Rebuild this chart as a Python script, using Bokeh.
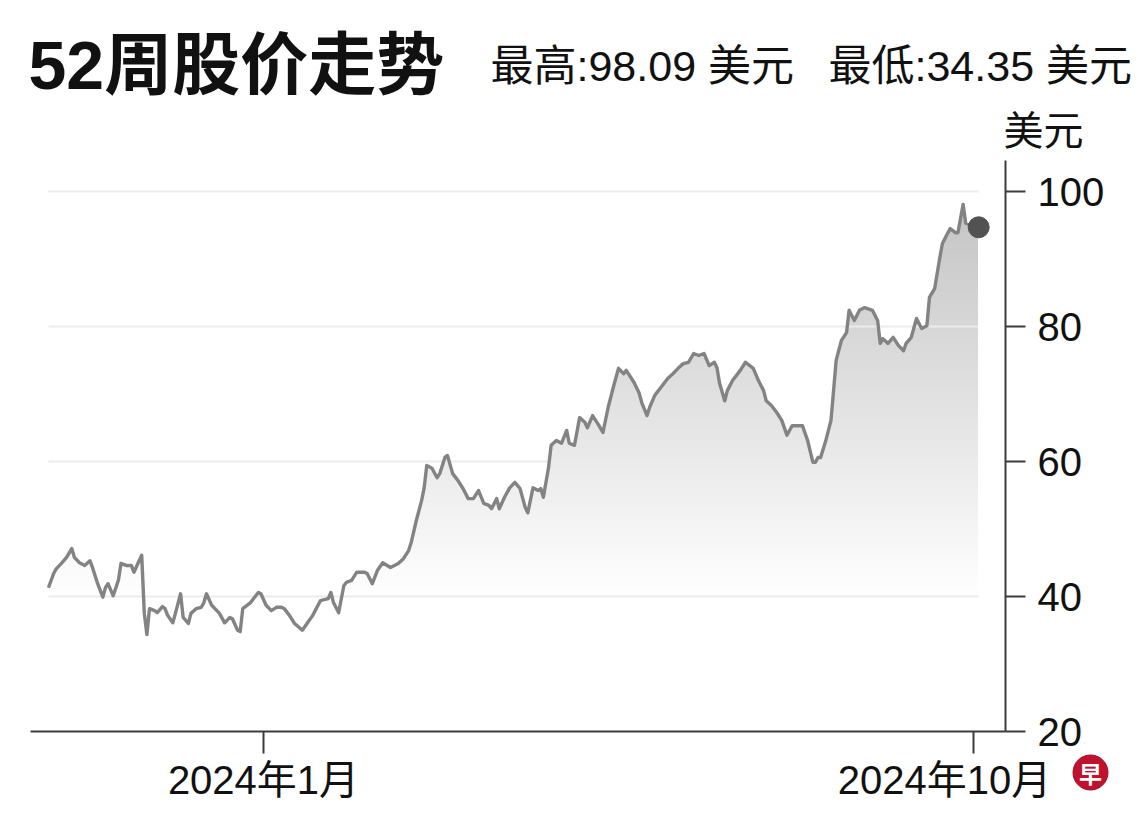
import numpy as np
import pandas as pd
from bokeh.plotting import figure
from bokeh.models import FixedTicker, Label, Range1d, LinearAxis, DatetimeAxis
from bokeh.embed import file_html
from bokeh.resources import INLINE

# ---------------- data ----------------
dates = [
    "2023-10-10", "2023-10-12", "2023-10-13", "2023-10-15", "2023-10-17", "2023-10-19", "2023-10-20",
    "2023-10-22", "2023-10-24", "2023-10-26", "2023-10-27", "2023-10-29", "2023-10-31", "2023-11-01",
    "2023-11-02", "2023-11-04", "2023-11-06", "2023-11-07", "2023-11-09", "2023-11-11", "2023-11-12",
    "2023-11-14", "2023-11-15", "2023-11-16", "2023-11-17", "2023-11-18", "2023-11-20", "2023-11-21",
    "2023-11-23", "2023-11-24", "2023-11-25", "2023-11-27", "2023-11-28", "2023-11-30", "2023-12-01",
    "2023-12-03", "2023-12-04", "2023-12-06", "2023-12-08", "2023-12-09", "2023-12-10", "2023-12-12",
    "2023-12-14", "2023-12-15", "2023-12-17", "2023-12-19", "2023-12-20", "2023-12-22", "2023-12-23",
    "2023-12-24", "2023-12-27", "2023-12-30", "2023-12-31", "2024-01-02", "2024-01-04", "2024-01-06",
    "2024-01-08", "2024-01-09", "2024-01-11", "2024-01-13", "2024-01-16", "2024-01-18", "2024-01-20",
    "2024-01-23", "2024-01-26", "2024-01-27", "2024-01-28", "2024-01-30", "2024-02-01", "2024-02-02",
    "2024-02-04", "2024-02-06", "2024-02-09", "2024-02-10", "2024-02-12", "2024-02-14", "2024-02-16",
    "2024-02-19", "2024-02-22", "2024-02-24", "2024-02-26", "2024-02-27", "2024-02-29", "2024-03-02",
    "2024-03-03", "2024-03-04", "2024-03-06", "2024-03-08", "2024-03-09", "2024-03-11", "2024-03-12",
    "2024-03-14", "2024-03-16", "2024-03-18", "2024-03-20", "2024-03-22", "2024-03-24", "2024-03-26",
    "2024-03-28", "2024-03-29", "2024-03-31", "2024-04-01", "2024-04-03", "2024-04-05", "2024-04-07",
    "2024-04-09", "2024-04-11", "2024-04-12", "2024-04-14", "2024-04-16", "2024-04-17", "2024-04-18",
    "2024-04-20", "2024-04-21", "2024-04-23", "2024-04-25", "2024-04-27", "2024-04-28", "2024-04-30",
    "2024-05-02", "2024-05-04", "2024-05-05", "2024-05-07", "2024-05-09", "2024-05-11", "2024-05-13",
    "2024-05-15", "2024-05-17", "2024-05-19", "2024-05-20", "2024-05-23", "2024-05-25", "2024-05-26",
    "2024-05-28", "2024-05-29", "2024-05-31", "2024-06-03", "2024-06-05", "2024-06-07", "2024-06-09",
    "2024-06-11", "2024-06-13", "2024-06-15", "2024-06-17", "2024-06-19", "2024-06-21", "2024-06-23",
    "2024-06-24", "2024-06-25", "2024-06-27", "2024-06-28", "2024-06-30", "2024-07-03", "2024-07-05",
    "2024-07-08", "2024-07-10", "2024-07-12", "2024-07-13", "2024-07-15", "2024-07-17", "2024-07-19",
    "2024-07-21", "2024-07-23", "2024-07-25", "2024-07-27", "2024-07-29", "2024-07-31", "2024-08-01",
    "2024-08-02", "2024-08-03", "2024-08-05", "2024-08-07", "2024-08-08", "2024-08-09", "2024-08-11",
    "2024-08-13", "2024-08-14", "2024-08-16", "2024-08-18", "2024-08-20", "2024-08-23", "2024-08-25",
    "2024-08-26", "2024-08-27", "2024-08-29", "2024-08-31", "2024-09-02", "2024-09-04", "2024-09-05",
    "2024-09-07", "2024-09-09", "2024-09-11", "2024-09-13", "2024-09-14", "2024-09-16", "2024-09-18",
    "2024-09-19", "2024-09-21", "2024-09-22", "2024-09-24", "2024-09-25", "2024-09-27", "2024-09-28",
    "2024-09-30", "2024-10-03",
]
prices = [
    41.3, 43.4, 44.1, 44.9, 45.8, 47.1, 45.8,
    45.0, 44.6, 45.3, 44.3, 41.9, 39.9, 41.3,
    41.9, 40.1, 42.4, 44.9, 44.6, 44.6, 43.6,
    45.3, 46.1, 37.5, 34.35, 38.2, 37.9, 37.6,
    38.5, 38.2, 37.2, 36.1, 37.5, 40.4, 36.9,
    36.0, 37.5, 38.2, 38.4, 39.1, 40.4, 38.7,
    37.9, 37.5, 36.1, 36.9, 36.7, 35.0, 34.8,
    38.2, 39.1, 40.6, 40.4, 38.7, 37.9, 38.4,
    38.4, 38.2, 37.2, 36.0, 35.0, 36.1, 37.2,
    39.4, 39.7, 40.6, 39.1, 37.6, 41.6, 42.1,
    42.4, 43.6, 43.6, 43.4, 41.9, 43.9, 45.0,
    44.3, 44.9, 45.6, 46.8, 48.0, 51.3, 54.2,
    56.1, 59.4, 59.0, 57.6, 58.2, 60.6, 60.9,
    58.2, 57.2, 56.0, 54.5, 54.5, 55.7, 53.8,
    53.5, 53.0, 54.5, 53.0, 54.7, 56.1, 56.9,
    56.0, 53.2, 52.4, 56.1, 55.7, 56.0, 54.7,
    59.1, 62.4, 63.1, 62.7, 64.6, 62.7, 62.4,
    66.5, 65.8, 65.0, 66.8, 65.6, 64.3, 68.0,
    71.0, 73.8, 73.0, 73.5, 71.7, 70.1, 68.7,
    66.8, 68.0, 69.8, 71.3, 72.3, 73.0, 73.8,
    74.5, 74.7, 76.0, 75.7, 76.0, 74.2, 74.7,
    73.9, 71.6, 69.0, 70.5, 72.0, 73.5, 74.7,
    73.8, 72.0, 70.5, 69.0, 68.3, 67.3, 66.1,
    63.9, 65.3, 65.3, 65.3, 63.1, 59.9, 59.9,
    60.6, 60.6, 63.1, 66.1, 70.5, 75.0, 77.9,
    79.1, 82.4, 80.9, 82.4, 82.8, 82.4, 80.9,
    77.5, 78.2, 77.5, 78.4, 77.2, 76.4, 77.5,
    78.4, 81.2, 79.7, 80.1, 84.3, 85.6, 90.2,
    92.3, 93.8, 94.5, 93.9, 93.9, 98.09, 95.3,
    95.0, 94.7,
]
y_ticks = [20, 40, 60, 80, 100]
x_tick_dates = ["2024-01-01", "2024-10-01"]
x_tick_labels = ["2024年1月", "2024年10月"]
title_text = "52周股价走势"
high_text = "最高:98.09 美元"
low_text = "最低:34.35 美元"
unit_text = "美元"
logo_text = "早"

# ---------------- layout (pixel geometry of the chart area) ----------------
W, H = 1140, 822
t0 = pd.Timestamp(x_tick_dates[0]).value / 1e6        # Jan 1 2024 in ms
t1 = pd.Timestamp(x_tick_dates[1]).value / 1e6        # Oct 1 2024 in ms
PX_T0, PX_T1 = 263.0, 973.0                             # pixel x of the two ticks
px_per_ms = (PX_T1 - PX_T0) / (t1 - t0)
def x_at(px):
    return t0 + (px - PX_T0) / px_per_ms
PX_100, PX_20 = 191.0, 731.0                            # pixel y of 100 and 20
px_per_unit = (PX_20 - PX_100) / 80.0
def y_at(py):
    return 100.0 - (py - PX_100) / px_per_unit

AXIS_X = x_at(1005)           # right axis position
AXIS_LEFT = x_at(30)          # start of x axis line
AXIS_TOP = y_at(160)          # top of right axis line

FONT = "'Liberation Sans', 'Noto Sans CJK SC', sans-serif"

x = pd.to_datetime(dates)
v = np.array(prices, dtype=float)

p = figure(width=W, height=H, x_axis_type=None, y_axis_type=None,
           x_range=Range1d(x_at(0), x_at(W)), y_range=Range1d(y_at(H), y_at(0)),
           output_backend="svg", toolbar_location=None,
           min_border=0, min_border_left=0, min_border_right=0,
           min_border_top=0, min_border_bottom=0)
p.outline_line_color = None
p.background_fill_color = "white"
p.border_fill_color = "white"

# gradient-like fill under the line: nested translucent areas
for t in np.arange(40, 99, 1.0):
    p.varea(x=x, y1=t, y2=np.maximum(v, t), fill_color="black", fill_alpha=0.0028)

# faint horizontal grid lines across the data span
gy = [t for t in y_ticks if t > y_ticks[0]]
p.segment(x0=[x[0]] * len(gy), x1=[x[-1]] * len(gy), y0=gy, y1=gy,
          line_color="#ececec", line_width=2)

p.line(x, v, line_color="#838383", line_width=3.4, line_join="round")
p.scatter([x[-1]], [v[-1]], size=21, fill_color="#525252", line_color="#525252")

# axes at fixed locations
xa = DatetimeAxis(fixed_location=y_ticks[0], bounds=(AXIS_LEFT, AXIS_X))
xa.ticker = FixedTicker(ticks=[t0, t1])
xa.major_label_overrides = {t0: x_tick_labels[0], t1: " "}
xa.axis_line_color = "#3c3c3c"
xa.axis_line_width = 2
xa.major_tick_line_color = "#3c3c3c"
xa.major_tick_line_width = 2
xa.major_tick_in = 0
xa.major_tick_out = 22
xa.minor_tick_line_color = None
xa.major_label_standoff = 4
xa.major_label_text_font = FONT
xa.major_label_text_font_size = "40px"
xa.major_label_text_color = "#111111"
p.add_layout(xa, "below")

# the last tick label is shifted left of its tick (as in the original layout)
p.add_layout(Label(x=t1, y=y_ticks[0], x_offset=-29, y_offset=-26, text=x_tick_labels[1],
                   text_font=FONT, text_font_size="40px", text_color="#111111",
                   text_align="center", text_baseline="top"))

ya = LinearAxis(fixed_location=AXIS_X, bounds=(y_ticks[0], AXIS_TOP))
ya.ticker = FixedTicker(ticks=y_ticks)
ya.axis_line_color = "#3c3c3c"
ya.axis_line_width = 2
ya.major_tick_line_color = "#3c3c3c"
ya.major_tick_line_width = 2
ya.major_tick_in = 0
ya.major_tick_out = 20
ya.minor_tick_line_color = None
ya.major_label_standoff = 12
ya.major_label_text_font = FONT
ya.major_label_text_font_size = "40px"
ya.major_label_text_color = "#111111"
p.add_layout(ya, "right")

# texts (screen units; frame covers the whole canvas)
def sy(py):
    return H - py

p.add_layout(Label(x=28, y=sy(64), x_units="screen", y_units="screen", text=title_text,
                   text_font=FONT, text_font_style="bold", text_font_size="68px",
                   text_color="#111111", text_baseline="middle", text_align="left"))
p.add_layout(Label(x=490, y=sy(65), x_units="screen", y_units="screen", text=high_text,
                   text_font=FONT, text_font_size="43px",
                   text_color="#111111", text_baseline="middle", text_align="left"))
p.add_layout(Label(x=828, y=sy(65), x_units="screen", y_units="screen", text=low_text,
                   text_font=FONT, text_font_size="43px",
                   text_color="#111111", text_baseline="middle", text_align="left"))
p.add_layout(Label(x=1003, y=sy(130), x_units="screen", y_units="screen", text=unit_text,
                   text_font=FONT, text_font_size="40px",
                   text_color="#111111", text_baseline="middle", text_align="left"))

# small red round logo in the corner
p.scatter([x_at(1090)], [y_at(772)], size=35, fill_color="#c0122f", line_color="#a30d28",
          line_width=1)
p.add_layout(Label(x=1090, y=sy(772), x_units="screen", y_units="screen", text=logo_text,
                   text_font="'Noto Sans CJK SC', sans-serif", text_font_style="bold",
                   text_font_size="23px", text_color="white",
                   text_baseline="middle", text_align="center"))

open("out.html", "w").write(file_html(p, INLINE))
